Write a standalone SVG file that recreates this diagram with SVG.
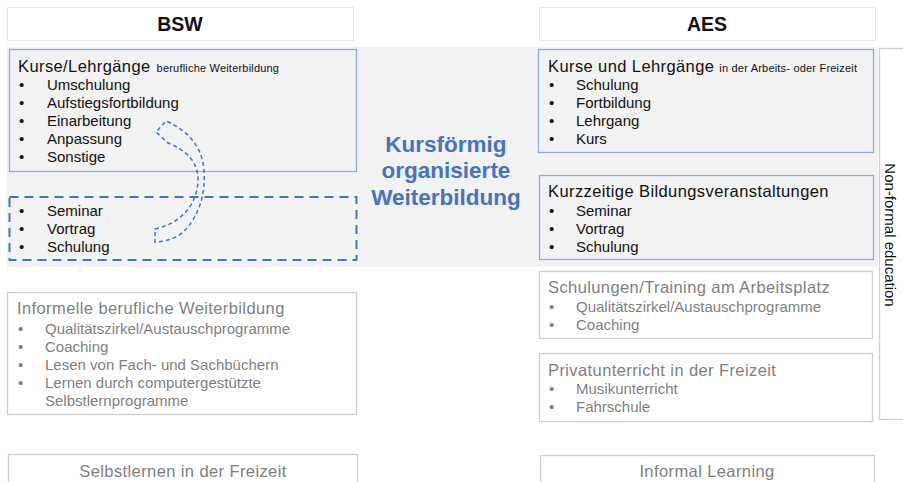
<svg xmlns="http://www.w3.org/2000/svg" width="903" height="482" viewBox="0 0 903 482">
  <style>
    text { font-family: "Liberation Sans", Arial, sans-serif; fill: #111; }
    .hdr { font-size: 19.5px; font-weight: bold; text-anchor: middle; }
    .ttl { font-size: 16.5px; letter-spacing: 0.4px; }
    .sub { font-size: 11px; letter-spacing: 0.2px; }
    .itm { font-size: 15px; }
    .grey { fill: #7f7f7f; }
    .hbox { fill: #ffffff; stroke: #e8e8e8; stroke-width: 1; }
    .bbox { fill: #f2f2f2; stroke: #8faadc; stroke-width: 1.3; }
    .gbox { fill: #ffffff; stroke: #cfcfcf; stroke-width: 1.3; }
    .dbox { fill: none; stroke: #4472c4; stroke-width: 2; stroke-dasharray: 9 6; }
    .mid { font-size: 22.5px; font-weight: bold; fill: #4472c4; text-anchor: middle; }
  </style>

  <!-- band for course-based continuing education -->
  <rect x="7" y="47" width="871" height="220" fill="#f2f2f2"/>

  <g id="bsw-header">
    <rect class="hbox" x="7.5" y="7.5" width="346" height="33"/>
    <text class="hdr" x="180" y="31">BSW</text>
  </g>

  <g id="aes-header">
    <rect class="hbox" x="539.5" y="7.5" width="336" height="33"/>
    <text class="hdr" x="707" y="31">AES</text>
  </g>

  <g id="bsw-kurse">
    <rect class="bbox" x="9.5" y="49.5" width="347" height="122"/>
    <text class="ttl" x="18" y="72">Kurse/Lehrgänge <tspan class="sub" dx="1">berufliche Weiterbildung</tspan></text>
    <g class="itm">
      <text x="19" y="90">•</text><text x="47" y="90">Umschulung</text>
      <text x="19" y="108">•</text><text x="47" y="108">Aufstiegsfortbildung</text>
      <text x="19" y="126">•</text><text x="47" y="126">Einarbeitung</text>
      <text x="19" y="144">•</text><text x="47" y="144">Anpassung</text>
      <text x="19" y="162">•</text><text x="47" y="162">Sonstige</text>
    </g>
  </g>

  <g id="bsw-kurzzeit">
    <rect class="dbox" x="9.5" y="197" width="347" height="63"/>
    <g class="itm">
      <text x="19" y="216">•</text><text x="47" y="216">Seminar</text>
      <text x="19" y="234">•</text><text x="47" y="234">Vortrag</text>
      <text x="19" y="252">•</text><text x="47" y="252">Schulung</text>
    </g>
  </g>

  <g id="mid-label">
    <text class="mid" x="446" y="152">Kursförmig</text>
    <text class="mid" x="446" y="178">organisierte</text>
    <text class="mid" x="446" y="205">Weiterbildung</text>
  </g>

  <g id="aes-kurse">
    <rect class="bbox" x="538.5" y="49.5" width="335" height="103"/>
    <text class="ttl" x="548" y="72">Kurse und Lehrgänge <tspan class="sub" dx="0">in der Arbeits- oder Freizeit</tspan></text>
    <g class="itm">
      <text x="549" y="90">•</text><text x="576" y="90">Schulung</text>
      <text x="549" y="108">•</text><text x="576" y="108">Fortbildung</text>
      <text x="549" y="126">•</text><text x="576" y="126">Lehrgang</text>
      <text x="549" y="144">•</text><text x="576" y="144">Kurs</text>
    </g>
  </g>

  <g id="aes-kurzzeit">
    <rect class="bbox" x="539.5" y="175.5" width="334" height="84"/>
    <text class="ttl" x="548" y="197">Kurzzeitige Bildungsveranstaltungen</text>
    <g class="itm">
      <text x="549" y="216">•</text><text x="576" y="216">Seminar</text>
      <text x="549" y="234">•</text><text x="576" y="234">Vortrag</text>
      <text x="549" y="252">•</text><text x="576" y="252">Schulung</text>
    </g>
  </g>

  <g id="aes-arbeitsplatz">
    <rect class="gbox" x="539.5" y="271.5" width="333" height="67"/>
    <text class="ttl grey" x="548" y="293">Schulungen/Training am Arbeitsplatz</text>
    <g class="itm">
      <text class="grey" x="549" y="312">•</text><text class="grey" x="576" y="312">Qualitätszirkel/Austauschprogramme</text>
      <text class="grey" x="549" y="330">•</text><text class="grey" x="576" y="330">Coaching</text>
    </g>
  </g>

  <g id="aes-privat">
    <rect class="gbox" x="539.5" y="353.5" width="333" height="68"/>
    <text class="ttl grey" x="548" y="376">Privatunterricht in der Freizeit</text>
    <g class="itm">
      <text class="grey" x="549" y="394">•</text><text class="grey" x="576" y="394">Musikunterricht</text>
      <text class="grey" x="549" y="412">•</text><text class="grey" x="576" y="412">Fahrschule</text>
    </g>
  </g>

  <g id="bsw-informell">
    <rect class="gbox" x="7.5" y="292.5" width="349" height="122"/>
    <text class="ttl grey" x="17" y="314">Informelle berufliche Weiterbildung</text>
    <g class="itm">
      <text class="grey" x="18" y="334">•</text><text class="grey" x="45" y="334">Qualitätszirkel/Austauschprogramme</text>
      <text class="grey" x="18" y="352">•</text><text class="grey" x="45" y="352">Coaching</text>
      <text class="grey" x="18" y="370">•</text><text class="grey" x="45" y="370">Lesen von Fach- und Sachbüchern</text>
      <text class="grey" x="18" y="388">•</text><text class="grey" x="45" y="388">Lernen durch computergestützte</text>
      <text class="grey" x="45" y="406">Selbstlernprogramme</text>
    </g>
  </g>

  <g id="bsw-selbstlernen">
    <rect class="gbox" x="8.5" y="454.5" width="349" height="40"/>
    <text class="ttl grey" x="183" y="477" text-anchor="middle">Selbstlernen in der Freizeit</text>
  </g>

  <g id="aes-informal">
    <rect class="gbox" x="540.5" y="455.5" width="334" height="40"/>
    <text class="ttl grey" x="707" y="477" text-anchor="middle">Informal Learning</text>
  </g>

  <g id="non-formal">
    <rect class="gbox" x="879.5" y="48.5" width="30" height="371"/>
    <text class="itm" x="0" y="0" text-anchor="middle" transform="translate(885 235) rotate(90)">Non-formal education</text>
  </g>

  <g id="connectors">
    <!-- hollow curved arrow from the short events up into the course list -->
    <path d="M155,229 C178,224 196,208 198,182 C199,162 186,150 168,143 L156,132 L166,121 C184,129 199,142 203,163 C208,192 198,222 178,236 C170,240 162,242 155,242 Z"
          fill="none" stroke="#4472c4" stroke-width="1.5" stroke-dasharray="4 3"/>
  </g>
</svg>
